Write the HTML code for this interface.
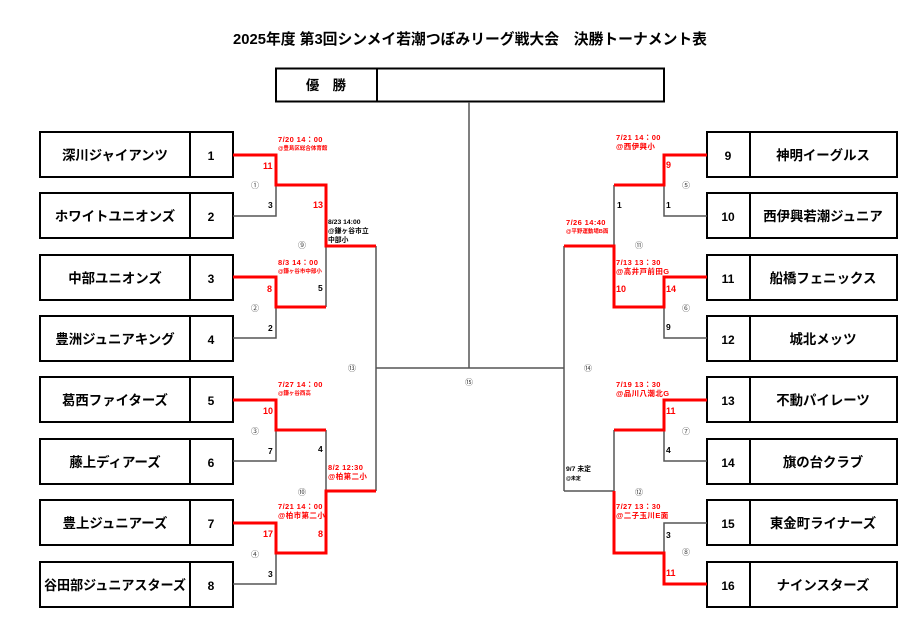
<!DOCTYPE html>
<html><head><meta charset="utf-8"><style>
html,body{margin:0;padding:0;background:#fff;}
svg{display:block;font-family:"Liberation Sans","Noto Sans CJK JP",sans-serif;}
.nm{font-size:13.4px;font-weight:bold;text-anchor:middle;fill:#000;}
.n{font-size:12px;font-weight:bold;fill:#000;}
.r{fill:#f00;font-weight:bold;}
.s{font-size:7.5px;letter-spacing:0.4px;}
.t{font-size:5.5px;}
.c{font-size:8px;fill:#444;text-anchor:middle;}
</style></head><body>
<svg width="910" height="628" viewBox="0 0 910 628" xmlns="http://www.w3.org/2000/svg">
<text x="470" y="44" text-anchor="middle" font-size="14.8" font-weight="bold">2025年度 第3回シンメイ若潮つぼみリーグ戦大会　決勝トーナメント表</text>
<rect x="276" y="68.5" width="388" height="33" fill="none" stroke="#000" stroke-width="2"/>
<line x1="377" y1="68.5" x2="377" y2="101.5" stroke="#000" stroke-width="2"/>
<text x="326" y="90" class="nm" font-size="13">優　勝</text>

<g fill="none" stroke="#000" stroke-width="2">
<rect x="40" y="132" width="193" height="45"/><line x1="190" y1="132" x2="190" y2="177"/>
<rect x="40" y="193" width="193" height="45"/><line x1="190" y1="193" x2="190" y2="238"/>
<rect x="40" y="255" width="193" height="45"/><line x1="190" y1="255" x2="190" y2="300"/>
<rect x="40" y="316" width="193" height="45"/><line x1="190" y1="316" x2="190" y2="361"/>
<rect x="40" y="377" width="193" height="45"/><line x1="190" y1="377" x2="190" y2="422"/>
<rect x="40" y="439" width="193" height="45"/><line x1="190" y1="439" x2="190" y2="484"/>
<rect x="40" y="500" width="193" height="45"/><line x1="190" y1="500" x2="190" y2="545"/>
<rect x="40" y="562" width="193" height="45"/><line x1="190" y1="562" x2="190" y2="607"/>
<rect x="707" y="132" width="190" height="45"/><line x1="750" y1="132" x2="750" y2="177"/>
<rect x="707" y="193" width="190" height="45"/><line x1="750" y1="193" x2="750" y2="238"/>
<rect x="707" y="255" width="190" height="45"/><line x1="750" y1="255" x2="750" y2="300"/>
<rect x="707" y="316" width="190" height="45"/><line x1="750" y1="316" x2="750" y2="361"/>
<rect x="707" y="377" width="190" height="45"/><line x1="750" y1="377" x2="750" y2="422"/>
<rect x="707" y="439" width="190" height="45"/><line x1="750" y1="439" x2="750" y2="484"/>
<rect x="707" y="500" width="190" height="45"/><line x1="750" y1="500" x2="750" y2="545"/>
<rect x="707" y="562" width="190" height="45"/><line x1="750" y1="562" x2="750" y2="607"/>
</g>
<g>
<text x="115" y="160" class="nm">深川ジャイアンツ</text><text x="211" y="160" class="n" text-anchor="middle">1</text>
<text x="115" y="221" class="nm">ホワイトユニオンズ</text><text x="211" y="221" class="n" text-anchor="middle">2</text>
<text x="115" y="283" class="nm">中部ユニオンズ</text><text x="211" y="283" class="n" text-anchor="middle">3</text>
<text x="115" y="344" class="nm">豊洲ジュニアキング</text><text x="211" y="344" class="n" text-anchor="middle">4</text>
<text x="115" y="405" class="nm">葛西ファイターズ</text><text x="211" y="405" class="n" text-anchor="middle">5</text>
<text x="115" y="467" class="nm">藤上ディアーズ</text><text x="211" y="467" class="n" text-anchor="middle">6</text>
<text x="115" y="528" class="nm">豊上ジュニアーズ</text><text x="211" y="528" class="n" text-anchor="middle">7</text>
<text x="115" y="590" class="nm" font-size="13" textLength="142" lengthAdjust="spacingAndGlyphs">谷田部ジュニアスターズ</text><text x="211" y="590" class="n" text-anchor="middle">8</text>
<text x="823" y="160" class="nm">神明イーグルス</text><text x="728" y="160" class="n" text-anchor="middle">9</text>
<text x="823" y="221" class="nm">西伊興若潮ジュニア</text><text x="728" y="221" class="n" text-anchor="middle">10</text>
<text x="823" y="283" class="nm">船橋フェニックス</text><text x="728" y="283" class="n" text-anchor="middle">11</text>
<text x="823" y="344" class="nm">城北メッツ</text><text x="728" y="344" class="n" text-anchor="middle">12</text>
<text x="823" y="405" class="nm">不動パイレーツ</text><text x="728" y="405" class="n" text-anchor="middle">13</text>
<text x="823" y="467" class="nm">旗の台クラブ</text><text x="728" y="467" class="n" text-anchor="middle">14</text>
<text x="823" y="528" class="nm">東金町ライナーズ</text><text x="728" y="528" class="n" text-anchor="middle">15</text>
<text x="823" y="590" class="nm">ナインスターズ</text><text x="728" y="590" class="n" text-anchor="middle">16</text>
</g>

<g fill="none" stroke="#555" stroke-width="1.5">
<polyline points="233,216 276,216 276,185"/>
<polyline points="233,338 276,338 276,307"/>
<polyline points="233,461 276,461 276,430"/>
<polyline points="233,584 276,584 276,553"/>
<line x1="326" y1="246" x2="326" y2="307"/>
<line x1="326" y1="430" x2="326" y2="491"/>
<line x1="376" y1="246" x2="376" y2="491"/>
<line x1="469" y1="102" x2="469" y2="368"/>
<line x1="376" y1="368" x2="564" y2="368"/>
<line x1="564" y1="246" x2="564" y2="491"/>
<polyline points="707,216 664,216 664,185"/>
<polyline points="707,338 664,338 664,307"/>
<polyline points="707,461 664,461 664,430"/>
<polyline points="707,523 664,523 664,553"/>
<line x1="614" y1="185" x2="614" y2="246"/>
<line x1="614" y1="430" x2="614" y2="491"/>
<line x1="564" y1="491" x2="614" y2="491"/>
</g>
<g fill="none" stroke="#f00" stroke-width="3">
<polyline points="233,155 276,155 276,185 326,185 326,246 376,246"/>
<polyline points="233,277 276,277 276,307 326,307"/>
<polyline points="233,400 276,400 276,430 326,430"/>
<polyline points="233,523 276,523 276,553 326,553 326,491 376,491"/>
<polyline points="707,155 664,155 664,185 614,185"/>
<polyline points="564,246 614,246 614,307 664,307 664,277 707,277"/>
<polyline points="707,400 664,400 664,430 614,430"/>
<polyline points="614,491 614,553 664,553 664,584 707,584"/>
</g>

<g class="r">
<text x="278" y="142" class="s r">7/20  14：00</text><text x="278" y="150" class="t r">@豊島区総合体育館</text>
<text x="263" y="169" font-size="9" class="r">11</text>
<text x="313" y="208" font-size="9" class="r">13</text>
<text x="278" y="265" class="s r">8/3  14：00</text><text x="278" y="273" class="t r">@鎌ヶ谷市中部小</text>
<text x="267" y="292" font-size="9" class="r">8</text>
<text x="278" y="387" class="s r">7/27  14：00</text><text x="278" y="395" class="t r">@鎌ヶ谷西高</text>
<text x="263" y="414" font-size="9" class="r">10</text>
<text x="328" y="470" class="s r">8/2  12:30</text><text x="328" y="479" class="s r" font-size="6.5">@柏第二小</text>
<text x="278" y="509" class="s r">7/21  14：00</text><text x="278" y="518" class="s r" font-size="6.5">@柏市第二小</text>
<text x="263" y="537" font-size="9" class="r">17</text>
<text x="318" y="537" font-size="9" class="r">8</text>
<text x="616" y="140" class="s r">7/21  14：00</text><text x="616" y="149" class="s r" font-size="6.5">@西伊興小</text>
<text x="666" y="168" font-size="9" class="r">9</text>
<text x="566" y="225" class="s r">7/26  14:40</text><text x="566" y="233" class="t r">@平野運動場B面</text>
<text x="616" y="265" class="s r">7/13  13：30</text><text x="616" y="274" class="s r" font-size="6.5">@高井戸前田G</text>
<text x="616" y="292" font-size="9" class="r">10</text>
<text x="666" y="292" font-size="9" class="r">14</text>
<text x="616" y="387" class="s r">7/19  13：30</text><text x="616" y="396" class="s r" font-size="6.5">@品川八潮北G</text>
<text x="666" y="414" font-size="9" class="r">11</text>
<text x="616" y="509" class="s r">7/27  13：30</text><text x="616" y="518" class="s r" font-size="6.5">@二子玉川E面</text>
<text x="666" y="576" font-size="9" class="r">11</text>
</g>
<g font-size="8.5" font-weight="bold">
<text x="268" y="208">3</text>
<text x="268" y="331">2</text>
<text x="268" y="454">7</text>
<text x="268" y="577">3</text>
<text x="318" y="291">5</text>
<text x="318" y="452">4</text>
<text x="617" y="208">1</text>
<text x="666" y="208">1</text>
<text x="666" y="330">9</text>
<text x="666" y="453">4</text>
<text x="666" y="538">3</text>
</g>
<g font-size="6.8" font-weight="bold">
<text x="328" y="224">8/23  14:00</text>
<text x="328" y="233">@鎌ヶ谷市立</text>
<text x="328" y="242">中部小</text>
<text x="566" y="471">9/7  未定</text>
<text x="566" y="480" font-size="5">@未定</text>
</g>
<g>
<text x="255" y="188" class="c">①</text>
<text x="255" y="311" class="c">②</text>
<text x="255" y="434" class="c">③</text>
<text x="255" y="557" class="c">④</text>
<text x="302" y="248" class="c">⑨</text>
<text x="302" y="495" class="c">⑩</text>
<text x="352" y="371" class="c">⑬</text>
<text x="469" y="385" class="c">⑮</text>
<text x="588" y="371" class="c">⑭</text>
<text x="639" y="248" class="c">⑪</text>
<text x="639" y="495" class="c">⑫</text>
<text x="686" y="188" class="c">⑤</text>
<text x="686" y="311" class="c">⑥</text>
<text x="686" y="434" class="c">⑦</text>
<text x="686" y="555" class="c">⑧</text>
</g>
</svg>
</body></html>
